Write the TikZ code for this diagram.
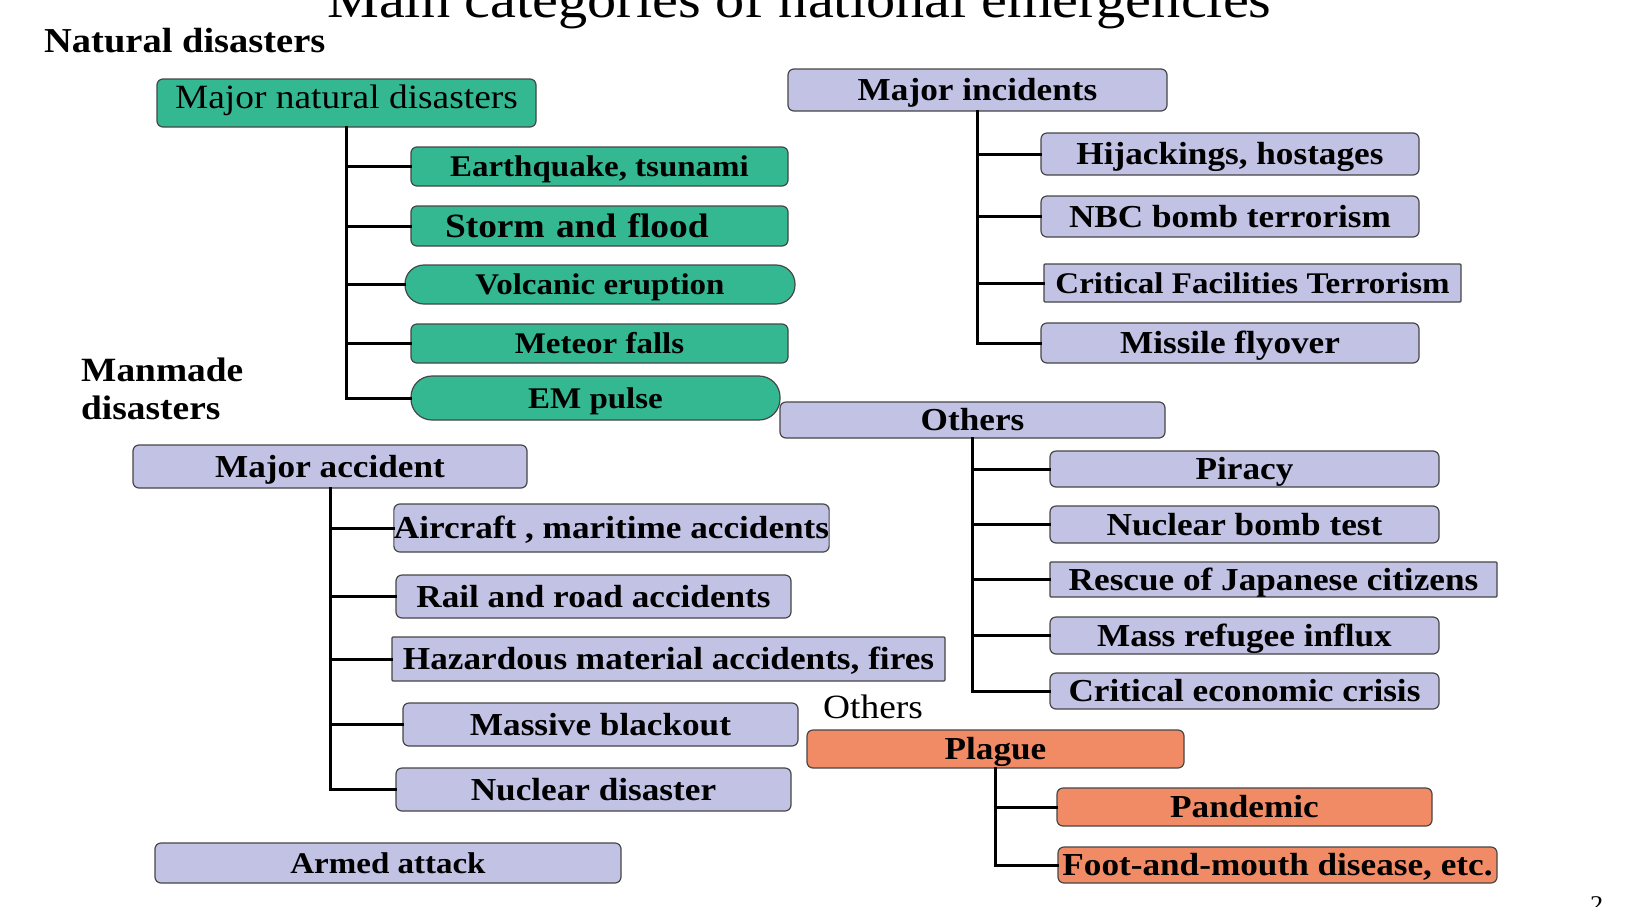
\documentclass[tikz,border=0pt]{standalone}
\usepackage{fontspec}
\setmainfont{Liberation Serif}[FakeStretch=1.1]
\definecolor{grn}{RGB}{52,184,146}
\definecolor{lav}{RGB}{194,194,228}
\definecolor{org}{RGB}{241,139,102}
\definecolor{boxline}{RGB}{70,70,70}
\tikzset{
  base/.style={draw=boxline, line width=1.2pt, rounded corners=6pt, inner sep=0pt,
    text height=21pt, text depth=0pt, font=\bfseries\fontsize{32}{36}\selectfont},
  gbox/.style={base, fill=grn},
  pbox/.style={base, fill=lav},
  obox/.style={base, fill=org},
  fa/.style={font=\bfseries\fontsize{30}{34}\selectfont, text height=20pt},
  fb/.style={font=\bfseries\fontsize{34}{38}\selectfont, text height=22pt},
  pill/.style={rounded corners=19pt},
  sq/.style={rounded corners=1pt},
  conn/.style={line width=3pt, line cap=rect},
  plain/.style={inner sep=0pt},
}
\begin{document}
\begin{tikzpicture}[x=1pt, y=-1pt]
\useasboundingbox (0,0) rectangle (1641,906);
\clip (0,0) rectangle (1641,906);
\fill[white] (0,0) rectangle (1641,906);

% title and headings
\node[plain, anchor=base west, font=\fontsize{53}{60}\selectfont] (title) at (327,17) {Main categories of national emergencies};
\node[plain, anchor=base west, font=\bfseries\fontsize{35}{40}\selectfont] (nat) at (44,52) {Natural disasters};
\node[plain, anchor=north west, align=left, font=\bfseries\fontsize{34}{38}\selectfont] (man) at (81,358) {Manmade\\disasters};
\node[plain, anchor=base west, font=\fontsize{34}{38}\selectfont] (othtxt) at (823,718) {Others};
\node[plain, anchor=base west, font=\fontsize{24}{28}\selectfont] (pg) at (1590,912) {2};

% natural disasters
\node[gbox, font=\fontsize{34}{38}\selectfont, text height=22pt, text depth=12pt, minimum width=379pt, minimum height=48pt] (mnd) at (346.5,103) {Major natural disasters};
\node[gbox, fa, minimum width=377pt, minimum height=39pt] (eq) at (599.5,166.5) {Earthquake, tsunami};
\node[gbox, fb, text width=309pt, align=left, inner xsep=34pt, minimum height=40pt] (storm) at (599.5,226) {Storm and flood};
\node[gbox, fa, pill, minimum width=390pt, minimum height=39pt] (volc) at (600,284.5) {Volcanic eruption};
\node[gbox, fa, minimum width=377pt, minimum height=39pt] (met) at (599.5,343.5) {Meteor falls};
\node[gbox, fa, rounded corners=21pt, minimum width=369pt, minimum height=44pt] (em) at (595.5,398) {EM pulse};

\draw[conn] (mnd.south) -- (mnd.south |- em.west);
\foreach \n in {eq,storm,volc,met,em}
  \draw[conn] (mnd.south |- \n.west) -- (\n.west);

% major incidents
\node[pbox, minimum width=379pt, minimum height=42pt] (minc) at (977.5,90) {Major incidents};
\node[pbox, minimum width=378pt, minimum height=42pt] (hij) at (1230,154) {Hijackings, hostages};
\node[pbox, minimum width=378pt, minimum height=41pt] (nbc) at (1230,216.5) {NBC bomb terrorism};
\node[pbox, fa, sq, minimum width=417pt, minimum height=38pt] (cft) at (1252.5,283) {Critical Facilities Terrorism};
\node[pbox, minimum width=378pt, minimum height=40pt] (mis) at (1230,343) {Missile flyover};

\draw[conn] (minc.south) -- (minc.south |- mis.west);
\foreach \n in {hij,nbc,cft,mis}
  \draw[conn] (minc.south |- \n.west) -- (\n.west);

% others
\node[pbox, minimum width=385pt, minimum height=36pt] (oth) at (972.5,420) {Others};
\node[pbox, minimum width=389pt, minimum height=36pt] (pir) at (1244.5,469) {Piracy};
\node[pbox, minimum width=389pt, minimum height=37pt] (nbt) at (1244.5,524.5) {Nuclear bomb test};
\node[pbox, sq, minimum width=447pt, minimum height=35pt] (resc) at (1273.5,579.5) {Rescue of Japanese citizens};
\node[pbox, minimum width=389pt, minimum height=37pt] (mrf) at (1244.5,635.5) {Mass refugee influx};
\node[pbox, minimum width=389pt, minimum height=36pt] (cec) at (1244.5,691) {Critical economic crisis};

\draw[conn] (oth.south) -- (oth.south |- cec.west);
\foreach \n in {pir,nbt,resc,mrf,cec}
  \draw[conn] (oth.south |- \n.west) -- (\n.west);

% plague
\node[obox, minimum width=377pt, minimum height=38pt] (plg) at (995.5,749) {Plague};
\node[obox, minimum width=375pt, minimum height=38pt] (pan) at (1244.5,807) {Pandemic};
\node[obox, minimum width=439pt, minimum height=36pt] (fmd) at (1277.5,865) {Foot-and-mouth disease, etc.};

\draw[conn] (plg.south) -- (plg.south |- fmd.west);
\foreach \n in {pan,fmd}
  \draw[conn] (plg.south |- \n.west) -- (\n.west);

% major accident
\node[pbox, minimum width=394pt, minimum height=43pt] (macc) at (330,466.5) {Major accident};
\node[pbox, minimum width=431pt, minimum height=48pt] (air) at (611.5,528) {Aircraft , maritime accidents};
\node[pbox, minimum width=395pt, minimum height=43pt] (rail) at (593.5,596.5) {Rail and road accidents};
\node[pbox, sq, minimum width=553pt, minimum height=44pt] (haz) at (668.5,659) {Hazardous material accidents, fires};
\node[pbox, minimum width=395pt, minimum height=43pt] (blk) at (600.5,724.5) {Massive blackout};
\node[pbox, minimum width=395pt, minimum height=43pt] (nuc) at (593.5,789.5) {Nuclear disaster};

\draw[conn] (macc.south) -- (macc.south |- nuc.west);
\foreach \n in {air,rail,haz,blk,nuc}
  \draw[conn] (macc.south |- \n.west) -- (\n.west);

\node[pbox, fa, minimum width=466pt, minimum height=40pt] (arm) at (388,863) {Armed attack};
\end{tikzpicture}
\end{document}
